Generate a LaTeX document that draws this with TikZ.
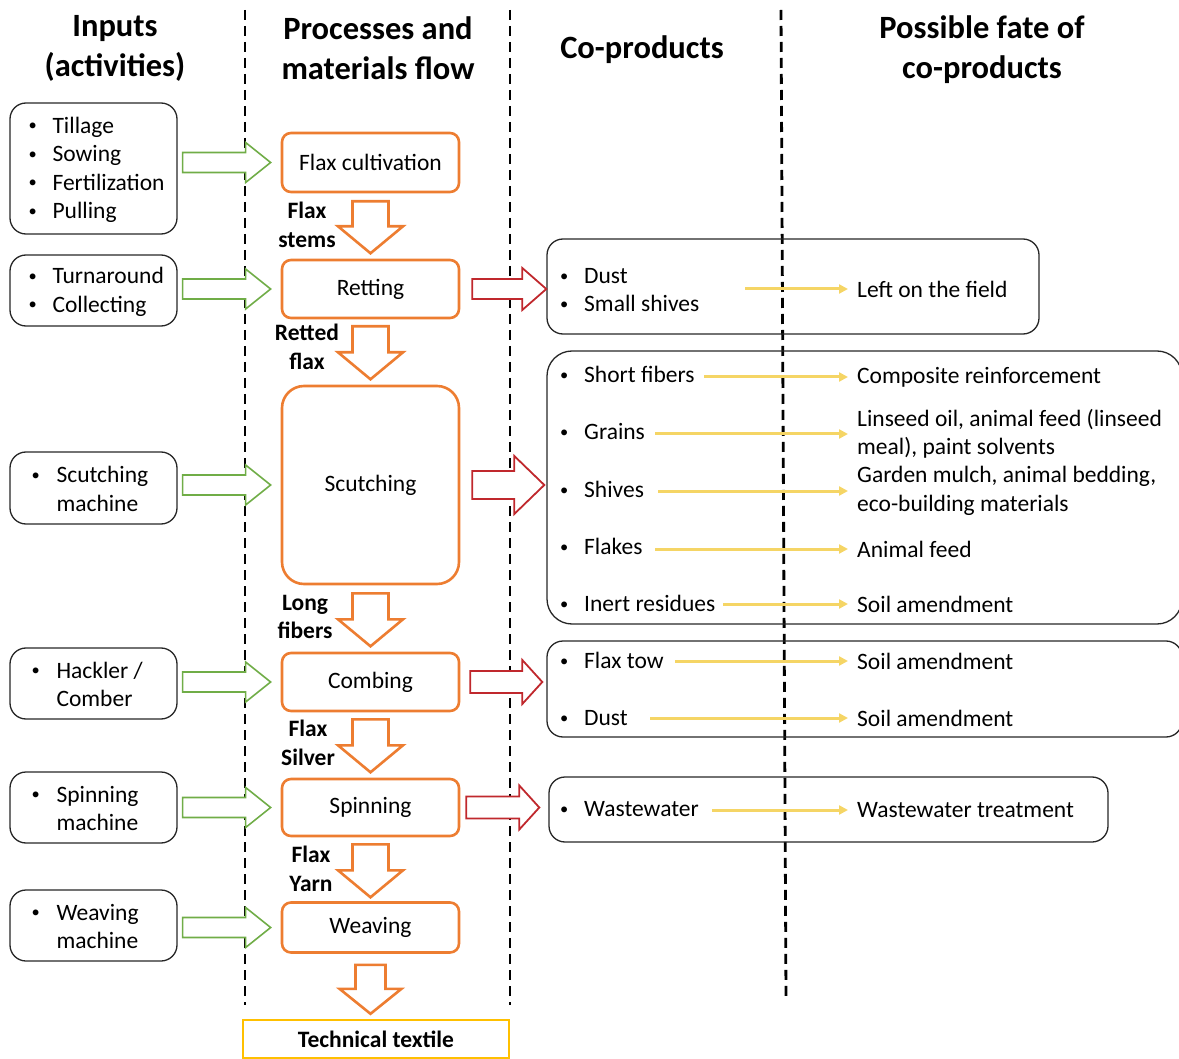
\documentclass[tikz,border=0pt]{standalone}
\usepackage{fontspec}
\setmainfont{Carlito}
\usetikzlibrary{arrows.meta,calc}
\definecolor{orng}{HTML}{ED7D31}
\definecolor{grn}{HTML}{70AD47}
\definecolor{rd}{HTML}{C0282D}
\definecolor{ylw}{HTML}{F5D565}
\definecolor{gold}{HTML}{FFC000}
\newcommand{\harrow}[6]{\draw[#6, shift={#1}] (0,-#3) -- (#2-#5,-#3) -- (#2-#5,-#4) -- (#2,0) -- (#2-#5,#4) -- (#2-#5,#3) -- (0,#3) -- cycle;}
\newcommand{\varrow}[5]{\draw[darr, shift={#1}] (-#3,0) -- (-#3,#2-#5) -- (-#4,#2-#5) -- (0,#2) -- (#4,#2-#5) -- (#3,#2-#5) -- (#3,0) -- cycle;}
\newcommand{\dotb}{\raisebox{2.4pt}{\scalebox{0.7}{•}}}
\newcommand{\bul}{\makebox[25pt][l]{\hspace*{1pt}\dotb}}
\newcommand{\bulb}{\hspace*{3pt}\makebox[26pt][l]{\hspace*{1pt}\dotb}}
\newcommand{\indb}{\hspace*{29pt}}
\newcommand{\fnt}{\fontsize{23.5}{28.5}\selectfont}
\tikzset{
 hdr/.style={font=\fontsize{32.5}{40}\selectfont\bfseries, align=center, inner sep=0pt},
 inbox/.style={draw=black!85, line width=1.3pt, rounded corners=16pt, minimum width=167pt, inner sep=0pt},
 intext/.style={anchor=west, align=left, inner sep=0pt, font=\fnt},
 pbox/.style={draw=orng, line width=2.6pt, rounded corners=9pt, minimum width=177pt, inner sep=0pt, font=\fnt},
 cbox/.style={draw=black!85, line width=1.3pt, rounded corners=16pt, inner sep=0pt},
 item/.style={anchor=west, inner sep=0pt, font=\fnt, text height=16pt, text depth=5pt},
 fate/.style={anchor=west, inner sep=0pt, align=left, font=\fnt},
 lbl/.style={font=\fnt\bfseries, align=center, inner sep=0pt},
 garr/.style={draw=grn, line width=1.6pt, fill=white, line join=miter},
 rarr/.style={draw=rd, line width=1.8pt, fill=white, line join=miter},
 darr/.style={draw=orng, line width=2.6pt, fill=white, line join=miter},
 yarr/.style={draw=ylw, line width=3pt, shorten >=9pt, -{Triangle[length=9pt,width=9pt]}},
 dsh/.style={line width=2.8pt, dash pattern=on 10pt off 6pt},
}
\begin{document}
\begin{tikzpicture}[x=1pt,y=-1pt]
\useasboundingbox (0,0) rectangle (1179,1059);
% headers
\node[hdr] (h1) at (115,48) {Inputs\\(activities)};
\node[hdr] (h2) at (378,48) {Processes and\\materials flow};
\node[hdr] (h3) at (642,50) {Co-products};
\node[hdr] (h4) at (982,50) {Possible fate of\\co-products};
% dashed separators
\coordinate (d1a) at (245,10); \coordinate (d1b) at (245,1005);
\coordinate (d2a) at (510,10); \coordinate (d2b) at (510,1005);
\coordinate (d3a) at (781,10); \coordinate (d3b) at (786,997);
\draw[dsh] (d1a) -- (d1b);
\draw[dsh] (d2a) -- (d2b);
\draw[dsh] (d3a) -- (d3b);
% process boxes
\node[pbox, minimum height=59pt] (p1) at (370.5,162.5) {Flax cultivation};
\node[pbox, minimum height=58pt] (p2) at (370.5,289) {Retting};
\node[pbox, minimum height=198pt, rounded corners=22pt] (p3) at (370.5,485) {Scutching};
\node[pbox, minimum height=58pt] (p4) at (370.5,682) {Combing};
\node[pbox, minimum height=57pt] (p5) at (370.5,807.5) {Spinning};
\node[pbox, minimum height=50pt] (p6) at (370.5,927.5) {Weaving};
\node[draw=gold, line width=2.6pt, minimum width=266pt, minimum height=38pt, inner sep=0pt, font=\fnt\bfseries] (tt) at (376,1039) {Technical textile};
% down arrows
\varrow{($(p1.south)+(0,8)$)}{52}{18}{32.5}{27}
\varrow{($(p2.south)+(0,7)$)}{53}{18}{32.5}{27}
\varrow{($(p3.south)+(0,8)$)}{53}{18}{32.5}{27}
\varrow{($(p4.south)+(0,7)$)}{53}{18}{32.5}{27}
\varrow{($(p5.south)+(0,7)$)}{53}{18}{32.5}{27}
\varrow{($(p6.south)+(0,11)$)}{49}{15}{31}{25}
% flow labels
\node[lbl] (l1) at (307,225) {Flax\\stems};
\node[lbl] (l2) at (307,347) {Retted\\flax};
\node[lbl] (l3) at (305,617) {Long\\fibers};
\node[lbl] (l4) at (308,743) {Flax\\Silver};
\node[lbl] (l5) at (311,869) {Flax\\Yarn};
% input boxes
\node[inbox, minimum height=131pt] (in1) at (93.5,168.5) {};
\node[intext] (t1) at ($(in1.west)+(18,1.5)$) {\bul Tillage\\\bul Sowing\\\bul Fertilization\\\bul Pulling};
\node[inbox, minimum height=71pt] (in2) at (93.5,290.5) {};
\node[intext] (t2) at ($(in2.west)+(18,1.5)$) {\bul Turnaround\\\bul Collecting};
\node[inbox, minimum height=72pt] (in3) at (93.5,488) {};
\node[intext] (t3) at ($(in3.west)+(18,1)$) {\bulb Scutching\\\indb machine};
\node[inbox, minimum height=71pt] (in4) at (93.5,683.5) {};
\node[intext] (t4) at ($(in4.west)+(18,1)$) {\bulb Hackler /\\\indb Comber};
\node[inbox, minimum height=71pt] (in5) at (93.5,807.5) {};
\node[intext] (t5) at ($(in5.west)+(18,1)$) {\bulb Spinning\\\indb machine};
\node[inbox, minimum height=71pt] (in6) at (93.5,925.5) {};
\node[intext] (t6) at ($(in6.west)+(18,1)$) {\bulb Weaving\\\indb machine};
% green arrows
\harrow{($(in1.east |- p1.west)+(5,0)$)}{88}{10}{20}{25}{garr}
\harrow{($(in2.east |- p2.west)+(5,0)$)}{88}{10}{20}{25}{garr}
\harrow{($(in3.east |- p3.west)+(5,0)$)}{88}{10}{20}{25}{garr}
\harrow{($(in4.east |- p4.west)+(5,0)$)}{88}{10}{20}{25}{garr}
\harrow{($(in5.east |- p5.west)+(5,0)$)}{88}{10}{20}{25}{garr}
\harrow{($(in6.east |- p6.west)+(5,0)$)}{88}{10}{20}{25}{garr}
% co-product boxes
\node[cbox, minimum width=492pt, minimum height=95pt] (c1) at (793,286.5) {};
\node[cbox, minimum width=635pt, minimum height=273pt, rounded corners=25pt] (c2) at (864.5,487.5) {};
\node[cbox, minimum width=635pt, minimum height=96pt] (c3) at (864.5,689) {};
\node[cbox, minimum width=559pt, minimum height=65pt] (c4) at (828.5,809.5) {};
% red arrows
\harrow{($(p2.east)+(12,0)$)}{74}{10}{21}{24}{rarr}
\harrow{($(p3.east)+(12,0)$)}{72}{14}{29}{30}{rarr}
\harrow{($(p4.east)+(10,0)$)}{72}{11}{22}{20}{rarr}
\harrow{($(p5.east)+(6,0)$)}{73}{11}{22}{20}{rarr}
% co-products items
\node[item] (i1) at (559,278) {\bul Dust};
\node[item] (i2) at (559,306) {\bul Small shives};
\node[item] (i3) at (559,377) {\bul Short fibers};
\node[item] (i4) at (559,434) {\bul Grains};
\node[item] (i5) at (559,492) {\bul Shives};
\node[item] (i6) at (559,549) {\bul Flakes};
\node[item] (i7) at (559,606) {\bul Inert residues};
\node[item] (i8) at (559,663) {\bul Flax tow};
\node[item] (i9) at (559,720) {\bul Dust};
\node[item] (i10) at (559,811) {\bul Wastewater};
% fates
\node[fate] (f1) at (857,289) {Left on the field};
\node[fate] (f2) at (857,377) {Composite reinforcement};
\node[fate] (f3) at (857,434) {Linseed oil, animal feed (linseed\\meal), paint solvents};
\node[fate] (f4) at (857,491) {Garden mulch, animal bedding,\\eco-building materials};
\node[fate] (f5) at (857,549) {Animal feed};
\node[fate] (f6) at (857,604) {Soil amendment};
\node[fate] (f7) at (857,661) {Soil amendment};
\node[fate] (f8) at (857,718) {Soil amendment};
\node[fate] (f9) at (857,810) {Wastewater treatment};
% yellow arrows
\coordinate (a1) at (745,289);
\coordinate (a2) at (704,377);
\coordinate (a3) at (655,434);
\coordinate (a4) at (658,491);
\coordinate (a5) at (655,549);
\coordinate (a6) at (723,604);
\coordinate (a7) at (675,661);
\coordinate (a8) at (650,718);
\coordinate (a9) at (712,810);
\draw[yarr] (a1) -- (f1.west);
\draw[yarr] (a2) -- (f2.west);
\draw[yarr] (a3) -- (f3.west);
\draw[yarr] (a4) -- (f4.west);
\draw[yarr] (a5) -- (f5.west);
\draw[yarr] (a6) -- (f6.west);
\draw[yarr] (a7) -- (f7.west);
\draw[yarr] (a8) -- (f8.west);
\draw[yarr] (a9) -- (f9.west);
\end{tikzpicture}
\end{document}
